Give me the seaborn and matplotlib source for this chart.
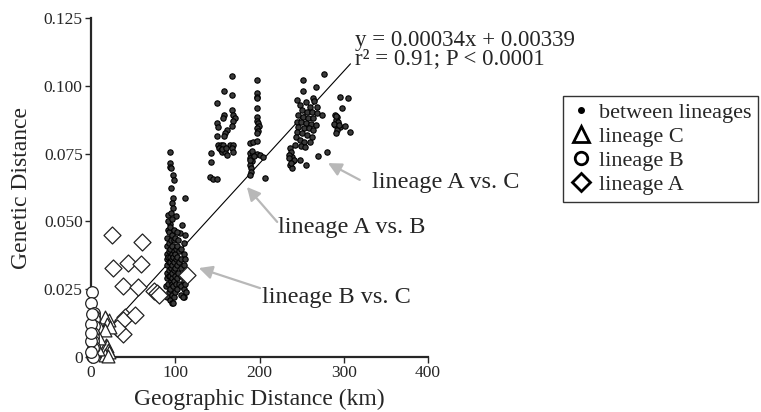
import numpy as np
import pandas as pd
import matplotlib
matplotlib.use('Agg')
import matplotlib.pyplot as plt
from matplotlib.lines import Line2D
import seaborn as sns

# (geographic distance km, genetic distance)
between_lineages = [
    # lineage B vs C cluster (~100 km)
    (93.8, 0.0757), (93.8, 0.0714), (94.0, 0.0702), (94.5, 0.0696), (97.7, 0.0671),
    (98.9, 0.0653), (95.0, 0.0624), (111.6, 0.0585), (97.7, 0.0585), (96.5, 0.0567),
    (97.7, 0.0548), (91.8, 0.0524), (100.5, 0.0521), (107.6, 0.0487), (93.8, 0.0492),
    (99.0, 0.0465), (105.6, 0.0456), (111.6, 0.0450),
    (90.2, 0.0220), (89.6, 0.0260), (90.4, 0.0290), (89.8, 0.0310), (90.6, 0.0340),
    (90.0, 0.0360), (90.5, 0.0380), (89.7, 0.0410), (90.3, 0.0440), (90.8, 0.0470),
    (92.1, 0.0240), (91.7, 0.0270), (92.4, 0.0300), (92.0, 0.0320), (92.6, 0.0350),
    (91.8, 0.0370), (92.3, 0.0390), (92.0, 0.0420), (92.5, 0.0460), (91.9, 0.0500),
    (94.2, 0.0210), (93.8, 0.0250), (94.4, 0.0280), (94.0, 0.0300), (94.6, 0.0330),
    (93.9, 0.0350), (94.3, 0.0370), (94.1, 0.0400), (94.7, 0.0430), (93.6, 0.0480),
    (94.4, 0.0530), (96.1, 0.0200), (95.8, 0.0230), (96.4, 0.0270), (96.0, 0.0290),
    (96.3, 0.0310), (95.7, 0.0340), (96.5, 0.0360), (96.2, 0.0380), (95.9, 0.0410),
    (96.6, 0.0450), (96.0, 0.0510), (98.2, 0.0220), (97.8, 0.0260), (98.4, 0.0280),
    (98.0, 0.0320), (98.3, 0.0350), (97.9, 0.0370), (98.5, 0.0390), (98.1, 0.0430),
    (98.6, 0.0470), (100.1, 0.0240), (100.4, 0.0270), (99.8, 0.0300), (100.2, 0.0330),
    (100.6, 0.0360), (99.9, 0.0380), (100.3, 0.0400), (100.0, 0.0440), (102.2, 0.0250),
    (101.8, 0.0290), (102.4, 0.0340), (102.0, 0.0370), (102.3, 0.0410), (101.9, 0.0460),
    (104.1, 0.0270), (103.8, 0.0310), (104.4, 0.0350), (104.0, 0.0390), (103.7, 0.0430),
    (107.2, 0.0230), (106.8, 0.0260), (107.4, 0.0300), (107.0, 0.0330), (107.3, 0.0360),
    (106.9, 0.0400), (110.1, 0.0220), (109.8, 0.0250), (110.3, 0.0280), (109.9, 0.0310),
    (110.4, 0.0340), (110.0, 0.0380), (110.2, 0.0420), (112.2, 0.0240), (111.9, 0.0270),
    (112.4, 0.0300), (112.0, 0.0360), (97.7, 0.0198), (109.6, 0.0222),
    # lineage A vs B (~150-170 km)
    (167.0, 0.1037), (157.9, 0.0981), (167.0, 0.0966), (150.0, 0.0935), (167.0, 0.0911),
    (157.9, 0.0892), (157.0, 0.0882), (169.0, 0.0892), (171.0, 0.0880), (168.0, 0.0870),
    (150.0, 0.0862), (150.5, 0.0849), (167.0, 0.0853), (161.0, 0.0837), (159.0, 0.0825),
    (150.0, 0.0816), (158.0, 0.0816), (151.0, 0.0782), (154.0, 0.0782), (157.0, 0.0782),
    (152.0, 0.0772), (154.0, 0.0763), (156.0, 0.0755), (159.0, 0.0755), (161.0, 0.0745),
    (165.0, 0.0780), (169.0, 0.0780), (167.0, 0.0770), (169.0, 0.0755), (143.0, 0.0751),
    (143.0, 0.0720), (141.0, 0.0665), (145.0, 0.0657), (150.0, 0.0657), (155.0, 0.0768),
    (160.0, 0.0770),
    # lineage A vs B (~190-205 km)
    (196.7, 0.1021), (196.7, 0.0972), (196.7, 0.0960), (196.7, 0.0954), (196.7, 0.0917),
    (196.7, 0.0886), (197.0, 0.0870), (198.0, 0.0862), (199.0, 0.0853), (197.0, 0.0843),
    (198.0, 0.0833), (197.0, 0.0825), (188.7, 0.0788), (192.7, 0.0792), (196.7, 0.0795),
    (188.7, 0.0751), (192.7, 0.0747), (196.7, 0.0747), (200.6, 0.0745), (204.5, 0.0739),
    (188.7, 0.0733), (190.7, 0.0721), (188.7, 0.0708), (190.5, 0.0696), (189.5, 0.0684),
    (188.7, 0.0671), (206.5, 0.0659), (191.0, 0.0760), (194.0, 0.0740), (189.0, 0.0725),
    # lineage A vs C (~235-280 km)
    (251.2, 0.1021), (277.0, 0.1042), (251.2, 0.0981), (267.0, 0.0997), (244.9, 0.0948),
    (255.2, 0.0941), (263.9, 0.0956), (265.0, 0.0944), (248.0, 0.0929), (260.0, 0.0923),
    (268.6, 0.0923), (250.0, 0.0911), (256.0, 0.0905), (261.9, 0.0905), (267.8, 0.0899),
    (273.8, 0.0892), (246.1, 0.0892), (252.0, 0.0886), (258.0, 0.0880), (263.9, 0.0880),
    (244.1, 0.0868), (248.8, 0.0865), (255.2, 0.0862), (260.7, 0.0858), (267.0, 0.0855),
    (246.1, 0.0849), (252.8, 0.0845), (259.1, 0.0843), (263.9, 0.0837), (244.1, 0.0831),
    (250.0, 0.0825), (256.0, 0.0819), (261.9, 0.0812), (243.3, 0.0812), (248.0, 0.0800),
    (252.8, 0.0794), (259.9, 0.0792), (242.1, 0.0782), (248.8, 0.0779), (254.0, 0.0776),
    (236.2, 0.0770), (237.0, 0.0755), (238.0, 0.0739), (239.3, 0.0721), (236.2, 0.0708),
    (238.0, 0.0696), (235.4, 0.0745), (240.9, 0.0727), (235.5, 0.0733), (237.0, 0.0715),
    (248.0, 0.0727), (255.2, 0.0708), (269.0, 0.0743), (279.7, 0.0757),
    # lineage A vs C (~290-305 km)
    (295.5, 0.0960), (305.4, 0.0954), (297.5, 0.0917), (289.6, 0.0892), (292.3, 0.0886),
    (290.8, 0.0874), (293.5, 0.0868), (289.6, 0.0855), (295.5, 0.0849), (291.6, 0.0837),
    (290.8, 0.0825), (301.5, 0.0853), (307.4, 0.0831), (288.0, 0.0860), (291.0, 0.0890),
    (294.0, 0.0855),
]

lineage_a = [
    (24.5, 0.0450), (60.2, 0.0425), (25.7, 0.0327), (44.3, 0.0348), (59.0, 0.0342),
    (37.6, 0.0262), (56.2, 0.0259), (74.8, 0.0245), (78.0, 0.0237), (81.1, 0.0229),
    (40.4, 0.0149), (38.3, 0.0136), (52.2, 0.0154), (37.6, 0.0085), (113.6, 0.0302),
    (12.7, 0.0106), (30.5, 0.0106),
]

lineage_b = [
    (0.8, 0.0241), (0.5, 0.0198), (3.6, 0.0163), (3.6, 0.0151), (3.6, 0.0139),
    (3.6, 0.0114), (2.5, 0.0087), (2.5, 0.0073), (2.5, 0.0060), (3.6, 0.0038),
    (2.5, 0.0032), (0.8, 0.0004), (2.5, 0.0001), (0.0, 0.0120), (0.0, 0.0060),
    (0.0, 0.0020), (1.0, 0.0160), (0.5, 0.0090),
]

lineage_c = [
    (17.8, 0.0139), (21.7, 0.0136), (16.6, 0.0149), (19.4, 0.0122), (10.7, 0.0107),
    (22.5, 0.0112), (16.6, 0.0100), (17.8, 0.0044), (18.6, 0.0040), (20.5, 0.0026),
    (21.7, 0.0020), (16.6, 0.0007), (20.0, 0.0005), (8.0, 0.0030), (10.0, 0.0070),
]

slope, intercept = 0.00034, 0.00339
fit_range = [20, 308]
equation = 'y = 0.00034x + 0.00339\nr² = 0.91; P < 0.0001'

x_ticks = [0, 100, 200, 300, 400]
y_ticks = [0, 0.025, 0.050, 0.075, 0.100, 0.125]
y_tick_labels = ['0', '0.025', '0.050', '0.075', '0.100', '0.125']


def to_df(points, group):
    df = pd.DataFrame(points, columns=['geo', 'gen'])
    df['group'] = group
    return df


sns.set_style('ticks')
plt.rcParams['font.family'] = ['Liberation Serif', 'DejaVu Serif']

fig = plt.figure(figsize=(7.61, 4.12), dpi=100)
ax = fig.add_axes([0.1196, 0.1335, 0.4428, 0.8228])

# regression line
fx = np.array(fit_range, dtype=float)
ax.plot(fx, slope * fx + intercept, color='black', lw=0.8, zorder=1)

sns.scatterplot(data=to_df(between_lineages, 'between'), x='geo', y='gen', ax=ax,
                marker='o', s=15, color='#3a3a3a', edgecolor='black', linewidth=0.8,
                zorder=2, legend=False)
sns.scatterplot(data=to_df(lineage_a, 'A'), x='geo', y='gen', ax=ax,
                marker='D', s=75, facecolor='white', edgecolor='#222222', linewidth=0.9,
                zorder=3, legend=False)
sns.scatterplot(data=to_df(lineage_c, 'C'), x='geo', y='gen', ax=ax,
                marker='^', s=85, facecolor='white', edgecolor='#222222', linewidth=0.9,
                zorder=3, legend=False)
sns.scatterplot(data=to_df(lineage_b, 'B'), x='geo', y='gen', ax=ax,
                marker='o', s=70, facecolor='white', edgecolor='#222222', linewidth=0.9,
                zorder=4, legend=False)
for coll in ax.collections:
    coll.set_clip_on(False)

ax.set_xlim(0, 400)
ax.set_ylim(0, 0.125)
ax.set_xticks(x_ticks)
ax.set_yticks(y_ticks)
ax.set_yticklabels(y_tick_labels)
ax.tick_params(axis='both', direction='out', length=4, width=1, labelsize=12.5, pad=2)
for side in ['top', 'right']:
    ax.spines[side].set_visible(False)
for side in ['left', 'bottom']:
    ax.spines[side].set_linewidth(1.6)

ax.set_xlabel('Geographic Distance (km)', fontsize=17)
ax.set_ylabel('Genetic Distance', fontsize=17)
ax.xaxis.set_label_coords(0.5, -0.095)
ax.yaxis.set_label_coords(-0.175, 0.5)

# equation, two tight lines in one text
ax.text(313.4, 0.1205, equation, fontsize=16.5, va='top', ha='left', linespacing=0.8)

# labelled arrows
arrow_style = dict(arrowstyle='-|>', color='#b8b8b8', lw=1.6, mutation_scale=20,
                   shrinkA=0, shrinkB=0)
notes = [
    ('lineage A vs. C', (333.5, 0.0645), (319, 0.0653), (281.3, 0.0715)),
    ('lineage A vs. B', (222, 0.0476), (221, 0.0498), (185, 0.0627)),
    ('lineage B vs. C', (203, 0.0221), (200.6, 0.0254), (128, 0.0328)),
]
for label, text_pos, tail, tip in notes:
    ax.annotate('', xy=tip, xytext=tail, arrowprops=arrow_style, annotation_clip=False)
    ax.text(text_pos[0], text_pos[1], label, fontsize=17.5, va='center', ha='left')

handles = [
    Line2D([], [], ls='', marker='o', markersize=4, color='black'),
    Line2D([], [], ls='', marker='^', markersize=12, markerfacecolor='white',
           markeredgecolor='black', markeredgewidth=2),
    Line2D([], [], ls='', marker='o', markersize=9, markerfacecolor='white',
           markeredgecolor='black', markeredgewidth=2),
    Line2D([], [], ls='', marker='D', markersize=9, markerfacecolor='white',
           markeredgecolor='black', markeredgewidth=2),
]
labels = ['between lineages', 'lineage C', 'lineage B', 'lineage A']
leg = fig.legend(handles, labels, loc='upper left', bbox_to_anchor=(563 / 761, 1 - 96 / 412),
                 bbox_transform=fig.transFigure, frameon=True, fancybox=False,
                 fontsize=16, borderpad=0.3, handlelength=1.0, handletextpad=0.3,
                 labelspacing=0.15, borderaxespad=0)
leg.get_frame().set_edgecolor('black')
leg.get_frame().set_linewidth(1.0)

fig.savefig('out.png', dpi=100)
